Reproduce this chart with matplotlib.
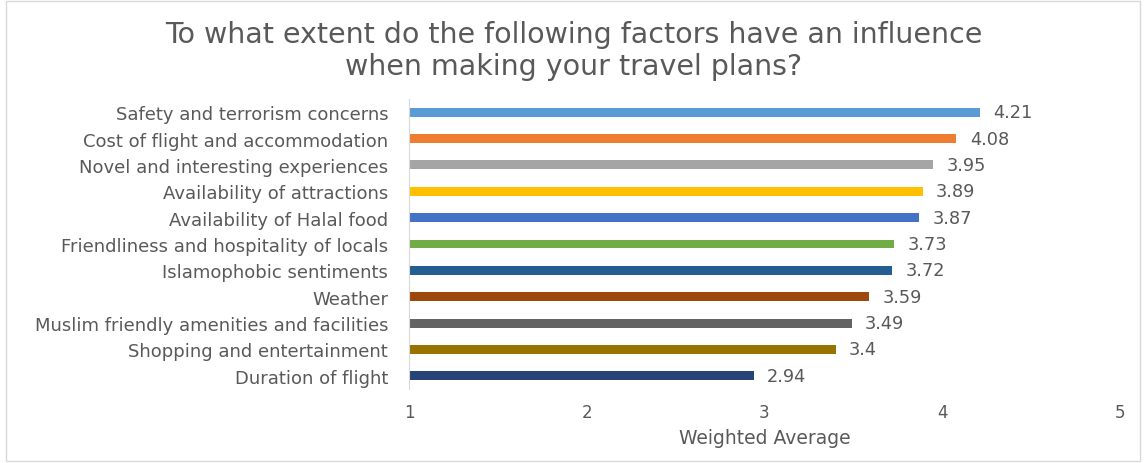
import matplotlib.pyplot as plt
from matplotlib.patches import Rectangle

plt.rcParams['font.family'] = ['DejaVu Sans']

factors = [
    "Safety and terrorism concerns",
    "Cost of flight and accommodation",
    "Novel and interesting experiences",
    "Availability of attractions",
    "Availability of Halal food",
    "Friendliness and hospitality of locals",
    "Islamophobic sentiments",
    "Weather",
    "Muslim friendly amenities and facilities",
    "Shopping and entertainment",
    "Duration of flight",
]
scores = [4.21, 4.08, 3.95, 3.89, 3.87, 3.73, 3.72, 3.59, 3.49, 3.4, 2.94]
colors = ["#5b9bd5", "#ed7d31", "#a5a5a5", "#ffc000", "#4472c4", "#70ad47",
          "#255e91", "#9e480e", "#636363", "#997300", "#264478"]
value_labels = ["4.21", "4.08", "3.95", "3.89", "3.87", "3.73", "3.72", "3.59", "3.49", "3.4", "2.94"]

TXT = "#595959"

fig = plt.figure(figsize=(11.47, 4.64), dpi=100)
ax = fig.add_axes([409 / 1147, 1 - 390 / 464, (1120 - 409) / 1147, 290 / 464])

ypos = list(range(len(factors)))
base = 1
ax.barh(ypos, [s - base for s in scores], left=base, height=0.34, color=colors)
for y, s, lab in zip(ypos, scores, value_labels):
    ax.text(s + 0.075, y, lab, va="center", ha="left", fontsize=12.8, color=TXT)

ax.set_xlim(1, 5)
ax.set_ylim(10.5, -0.5)
ax.set_xticks([1, 2, 3, 4, 5])
ax.set_xticklabels(["1", "2", "3", "4", "5"], fontsize=12)
ax.set_yticks(ypos)
ax.set_yticklabels(factors, fontsize=13)
ax.tick_params(axis="both", length=0, colors=TXT)
ax.tick_params(axis="y", pad=15)
ax.tick_params(axis="x", pad=10)
for side in ["top", "right", "bottom"]:
    ax.spines[side].set_visible(False)
ax.spines["left"].set_color("#d9d9d9")
ax.set_xlabel("Weighted Average", fontsize=13.5, color=TXT, labelpad=5)

fig.text(0.5, 1 - 51 / 464, "To what extent do the following factors have an influence\nwhen making your travel plans?",
         ha="center", va="center", fontsize=20.5, color=TXT, linespacing=1.15)

fig.patches.append(Rectangle((6 / 1147, 0.004), 1134 / 1147, 0.992, transform=fig.transFigure,
                             fill=False, edgecolor="#d9d9d9", linewidth=1))

fig.savefig("out.png", dpi=100)
